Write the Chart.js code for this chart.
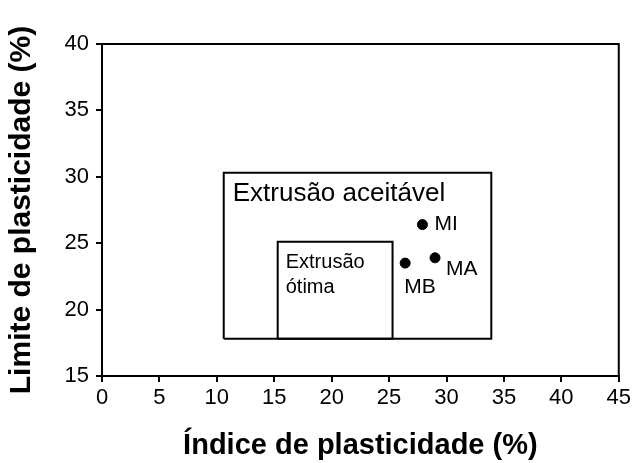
<!DOCTYPE html>
<html>
<head>
<meta charset="utf-8">
<script src="https://cdn.jsdelivr.net/npm/chart.js@4/dist/chart.umd.min.js"></script>
<style>
  html, body { margin: 0; padding: 0; background: #fff; }
  #wrap { width: 634px; height: 463px; }
</style>
</head>
<body>
<div id="wrap"><canvas id="c" width="634" height="463"></canvas></div>
<script>
// ---- data ----
const pointNames = ['MI', 'MA', 'MB'];
const pointX = [27.9, 29.0, 26.4];
const pointY = [26.4, 23.9, 23.5];

const zoneNames = ['Extrusão aceitável', 'Extrusão\nótima'];
const zoneXMin = [10.6, 15.3];
const zoneXMax = [33.9, 25.3];
const zoneYMin = [17.8, 17.8];
const zoneYMax = [30.3, 25.1];

const xTicks = [0, 5, 10, 15, 20, 25, 30, 35, 40, 45];
const yTicks = [15, 20, 25, 30, 35, 40];

const xTitle = 'Índice de plasticidade (%)';
const yTitle = 'Limite de plasticidade (%)';

// ---- styling (not data) ----
const FONT = '"Liberation Sans", Arial, sans-serif';
const labelOffsets = { MI: [12, 0, 'middle'], MA: [11, 11, 'middle'], MB: [-1, 24, 'middle'] };
const zoneTextStyle = [
  { size: 26, dx: 9, dy: 28, lh: 25 },
  { size: 20, dx: 8, dy: 26, lh: 25 }
];

const zoneDatasets = zoneNames.map((name, i) => ({
  label: name,
  data: [
    { x: zoneXMin[i], y: zoneYMin[i] },
    { x: zoneXMax[i], y: zoneYMin[i] },
    { x: zoneXMax[i], y: zoneYMax[i] },
    { x: zoneXMin[i], y: zoneYMax[i] },
    { x: zoneXMin[i], y: zoneYMin[i] }
  ],
  showLine: true,
  borderColor: '#000',
  borderWidth: 2,
  pointRadius: 0,
  fill: false,
  tension: 0
}));

const pointDataset = {
  label: 'amostras',
  data: pointX.map((x, i) => ({ x: x, y: pointY[i] })),
  pointRadius: 5,
  pointHoverRadius: 5,
  backgroundColor: '#000',
  borderColor: '#000',
  showLine: false
};

const framePlugin = {
  id: 'frame',
  afterDraw(chart) {
    const { ctx, chartArea: a } = chart;
    ctx.save();
    ctx.strokeStyle = '#000';
    ctx.lineWidth = 2;
    ctx.strokeRect(a.left, a.top, a.right - a.left, a.bottom - a.top);
    ctx.restore();
  }
};

const labelPlugin = {
  id: 'labels',
  afterDatasetsDraw(chart) {
    const { ctx, scales } = chart;
    const xs = scales.x, ys = scales.y;
    ctx.save();
    ctx.fillStyle = '#000';
    zoneNames.forEach((name, i) => {
      const st = zoneTextStyle[i];
      const px = xs.getPixelForValue(zoneXMin[i]);
      const py = ys.getPixelForValue(zoneYMax[i]);
      ctx.font = st.size + 'px ' + FONT;
      ctx.textAlign = 'left';
      ctx.textBaseline = 'alphabetic';
      name.split('\n').forEach((line, k) => {
        ctx.fillText(line, px + st.dx, py + st.dy + k * st.lh);
      });
    });
    ctx.font = '21px ' + FONT;
    pointNames.forEach((name, i) => {
      const px = xs.getPixelForValue(pointX[i]);
      const py = ys.getPixelForValue(pointY[i]);
      const o = labelOffsets[name];
      ctx.textAlign = 'left';
      ctx.textBaseline = o[2];
      ctx.fillText(name, px + o[0], py + o[1]);
    });
    ctx.restore();
  }
};

new Chart(document.getElementById('c'), {
  type: 'scatter',
  data: { datasets: [pointDataset].concat(zoneDatasets) },
  options: {
    responsive: false,
    animation: false,
    devicePixelRatio: 1,
    layout: { padding: { top: 44, right: 15, left: 0, bottom: 0 } },
    plugins: { legend: { display: false }, tooltip: { enabled: false } },
    scales: {
      x: {
        type: 'linear',
        min: xTicks[0],
        max: xTicks[xTicks.length - 1],
        afterBuildTicks(scale) { scale.ticks = xTicks.map(v => ({ value: v })); },
        afterFit(scale) { scale.height = 87; },
        ticks: { color: '#000', font: { family: FONT, size: 22 }, padding: 3, maxRotation: 0, autoSkip: false },
        grid: { drawOnChartArea: false, drawTicks: true, tickLength: 6, color: '#000', lineWidth: 2 },
        border: { display: true, color: '#000', width: 2 },
        title: { display: true, text: xTitle, color: '#000', font: { family: FONT, size: 29, weight: 'bold' }, padding: { top: 0, bottom: 0 } }
      },
      y: {
        type: 'linear',
        min: yTicks[0],
        max: yTicks[yTicks.length - 1],
        afterBuildTicks(scale) { scale.ticks = yTicks.map(v => ({ value: v })); },
        afterFit(scale) { scale.width = 102; },
        ticks: { color: '#000', font: { family: FONT, size: 22 }, padding: 7, autoSkip: false },
        grid: { drawOnChartArea: false, drawTicks: true, tickLength: 6, color: '#000', lineWidth: 2 },
        border: { display: true, color: '#000', width: 2 },
        title: { display: true, text: yTitle, color: '#000', font: { family: FONT, size: 30, weight: 'bold' }, padding: { top: 4, bottom: 0 } }
      }
    }
  },
  plugins: [framePlugin, labelPlugin]
});
</script>
</body>
</html>
